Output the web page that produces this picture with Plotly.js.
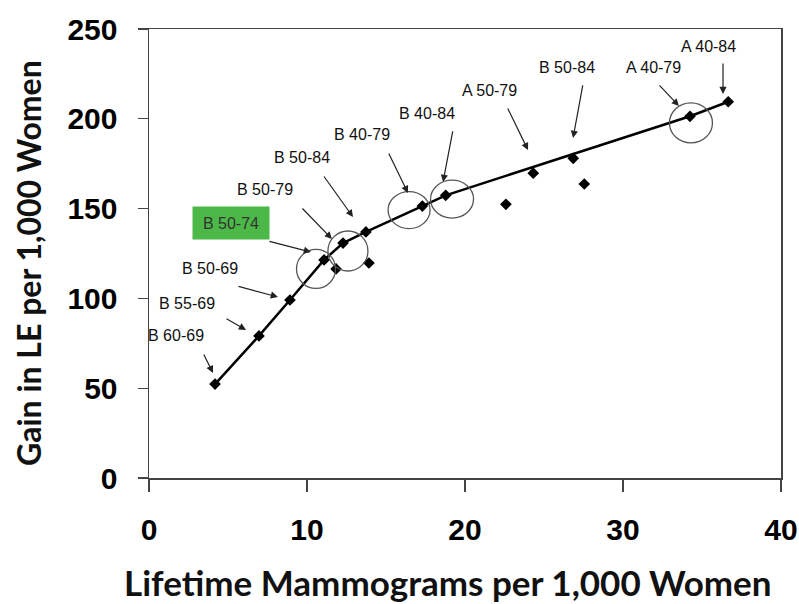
<!DOCTYPE html>
<html>
<head>
<meta charset="utf-8">
<script src="https://cdn.plot.ly/plotly-3.0.1.min.js"></script>
<style>html,body{margin:0;padding:0;background:#fff;}#chart{width:799px;height:604px;}</style>
</head>
<body>
<div id="chart"></div>
<script>
// Data
var mammograms = [4.18, 6.96, 8.92, 11.08, 11.84, 12.28, 13.73, 13.92, 17.3, 18.78, 22.59, 24.32, 26.85, 27.55, 34.24, 36.66];
var gainLE     = [52.3, 79.1, 99.1, 121.4, 116.4, 130.8, 137.0, 119.7, 151.4, 157.4, 152.4, 169.7, 178.0, 163.7, 201.4, 209.5];
var frontierX  = [4.18, 6.96, 8.92, 11.08, 12.28, 13.73, 17.3, 18.78, 34.24, 36.66];
var frontierY  = [52.3, 79.1, 99.1, 121.4, 130.8, 137.0, 151.4, 157.4, 201.4, 209.5];
var strategyLabels = ['B 60-69', 'B 55-69', 'B 50-69', 'B 50-74', 'B 50-79', 'B 50-84', 'B 40-79', 'B 40-84', 'A 50-79', 'B 50-84', 'A 40-79', 'A 40-84'];
var xTickVals = [0, 10, 20, 30, 40];
var yTickVals = [0, 50, 100, 150, 200, 250];
var xTitle = 'Lifetime Mammograms per 1,000 Women';
var yTitle = 'Gain in LE per 1,000 Women';

// label placement (text center, arrow tail, arrow head) in axis units
var labelPos = [
  [1.71, 79.1, 3.42, 69.6, 4.05, 58.5],
  [2.41, 97.4, 4.81, 89.1, 6.14, 82.4],
  [3.86, 116.4, 5.57, 106.9, 8.16, 100.8],
  [5.19, 142.0, 7.53, 132.0, 10.25, 125.8],
  [7.34, 160.9, 9.62, 150.9, 11.58, 133.1],
  [9.68, 178.2, 11.01, 168.7, 12.91, 145.3],
  [13.48, 191.0, 15.13, 181.5, 16.39, 158.7],
  [17.59, 203.2, 19.24, 193.8, 18.61, 164.8],
  [21.58, 216.0, 22.66, 206.6, 23.99, 182.6],
  [26.46, 228.3, 27.47, 219.4, 26.84, 189.3],
  [31.90, 228.3, 32.22, 219.4, 33.54, 207.1],
  [35.38, 240.5, 36.33, 231.6, 36.33, 213.8]
];
var circlePos = [
  [10.57, 116.4, 19.5, 19.5],
  [12.59, 126.4, 20, 20],
  [16.46, 149.2, 21, 18.5],
  [19.18, 155.3, 21.5, 19],
  [34.30, 197.7, 21.5, 20]
];

var traces = [
  {x: frontierX, y: frontierY, type: 'scatter', mode: 'lines',
   line: {color: '#000', width: 2.5}, hoverinfo: 'skip', showlegend: false},
  {x: mammograms, y: gainLE, type: 'scatter', mode: 'markers',
   marker: {symbol: 'diamond', size: 9, color: '#000'}, showlegend: false}
];

var annotations = [];
strategyLabels.forEach(function (t, i) {
  var p = labelPos[i];
  var green = (t === 'B 50-74');
  var a = {x: p[0], y: p[1], xref: 'x', yref: 'y', text: t, showarrow: false,
    font: {family: 'Liberation Sans, Arial, sans-serif', size: 16, color: green ? '#333' : '#111'}};
  if (green) { a.bgcolor = '#4cb848'; a.width = 74; a.height = 30; a.borderpad = 1; }
  annotations.push(a);
  annotations.push({x: p[4], y: p[5], ax: p[2], ay: p[3], xref: 'x', yref: 'y', axref: 'x', ayref: 'y',
    text: '', showarrow: true, arrowhead: 2, arrowsize: 1.2, arrowwidth: 1.2, arrowcolor: '#222'});
});
// axis titles
annotations.push({xref: 'paper', yref: 'paper', x: 0.473, y: -0.2316, xanchor: 'center', yanchor: 'middle',
  text: xTitle, showarrow: false,
  font: {family: 'Lato, Open Sans, sans-serif', size: 35, weight: 'bold', color: '#111'}});
annotations.push({xref: 'paper', yref: 'paper', x: -0.1915, y: 0.4788, xanchor: 'center', yanchor: 'middle',
  text: yTitle, showarrow: false, textangle: -90,
  font: {family: 'Lato, Open Sans, sans-serif', size: 32, weight: 'bold', color: '#111'}});

var shapes = circlePos.map(function (c) {
  return {type: 'circle', xref: 'x', yref: 'y', xsizemode: 'pixel', ysizemode: 'pixel',
    xanchor: c[0], yanchor: c[1], x0: -c[2], x1: c[2], y0: -c[3], y1: c[3],
    line: {color: '#555', width: 1.3}};
});

var layout = {
  width: 799, height: 604,
  margin: {l: 149, r: 18, t: 29, b: 126},
  paper_bgcolor: '#fff', plot_bgcolor: '#fff',
  showlegend: false,
  xaxis: {range: [0, 40], tickvals: xTickVals, ticks: 'outside', ticklen: 12, tickcolor: '#444', tickwidth: 1.3,
    showline: true, linecolor: '#444', linewidth: 1.5, mirror: true, showgrid: false, zeroline: false,
    ticklabelstandoff: 12,
    tickfont: {family: 'Liberation Sans, Arial, sans-serif', size: 30, weight: 'bold', color: '#000'}},
  yaxis: {range: [0, 250], tickvals: yTickVals, ticks: 'outside', ticklen: 10, tickcolor: '#444', tickwidth: 1.3,
    showline: true, linecolor: '#444', linewidth: 1.5, mirror: true, showgrid: false, zeroline: false,
    ticklabelstandoff: 14,
    tickfont: {family: 'Liberation Sans, Arial, sans-serif', size: 30, weight: 'bold', color: '#000'}},
  annotations: annotations,
  shapes: shapes
};

Plotly.newPlot('chart', traces, layout, {displayModeBar: false, staticPlot: true});
</script>
</body>
</html>
